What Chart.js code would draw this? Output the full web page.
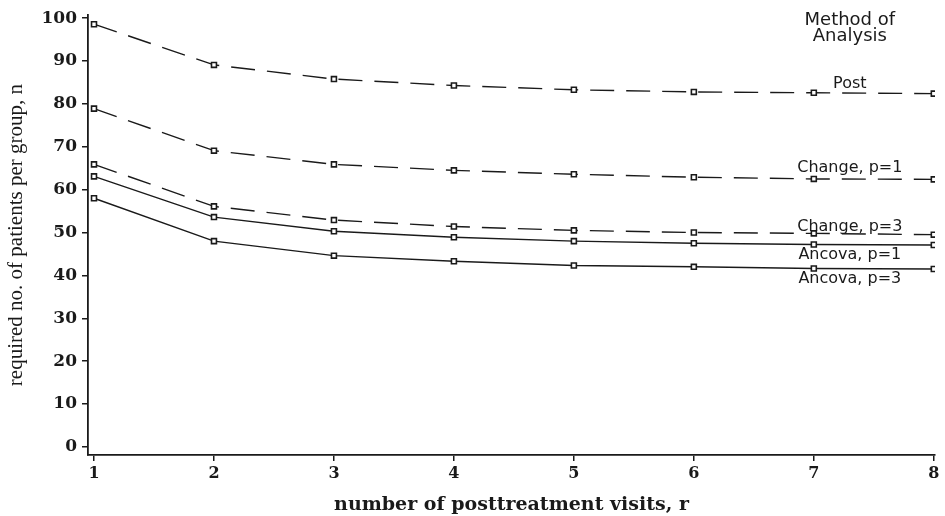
<!DOCTYPE html>
<html>
<head>
<meta charset="utf-8">
<script src="https://cdn.jsdelivr.net/npm/chart.js@4/dist/chart.umd.min.js"></script>
<style>
  html, body { margin: 0; padding: 0; background: #fff; }
  #wrap { width: 945px; height: 516px; position: relative; }
</style>
</head>
<body>
<div id="wrap"><canvas id="chart" width="945" height="516"></canvas></div>
<script>
// values
const visits = [1, 2, 3, 4, 5, 6, 7, 8];
const post = [98.6, 89.1, 85.8, 84.3, 83.3, 82.8, 82.6, 82.4];
const change1 = [78.9, 69.1, 65.9, 64.5, 63.6, 62.9, 62.5, 62.4];
const change3 = [65.9, 56.1, 52.9, 51.4, 50.5, 50.0, 49.8, 49.5];
const ancova1 = [63.1, 53.6, 50.3, 48.9, 48.0, 47.5, 47.2, 47.1];
const ancova3 = [58.0, 48.0, 44.6, 43.3, 42.3, 42.0, 41.6, 41.5];
const yTicks = [0, 10, 20, 30, 40, 50, 60, 70, 80, 90, 100];

// curve labels: [text, x, y]
const curveLabels = [
    ['Post', 7.3, 84.7],
    ['Change, p=1', 7.3, 65.0],
    ['Change, p=3', 7.3, 51.3],
    ['Ancova, p=1', 7.3, 44.8],
    ['Ancova, p=3', 7.3, 39.2]
];
const legendTitle = ['Method of', 'Analysis'];

const ink = '#1a1a1a';

function series(label, values, dashed) {
    return {
        label: label,
        data: visits.map((v, i) => ({ x: v, y: values[i] })),
        borderColor: ink,
        borderWidth: 1.4,
        borderDash: dashed ? [24, 12] : [],
        pointStyle: 'rect',
        pointRadius: 3.5,
        pointBorderWidth: 1.6,
        pointBorderColor: ink,
        pointBackgroundColor: '#fff',
        tension: 0
    };
}

const labelPlugin = {
    id: 'curveLabels',
    afterDatasetsDraw(chart) {
        const ctx = chart.ctx;
        const xs = chart.scales.x, ys = chart.scales.y;
        ctx.save();
        ctx.fillStyle = ink;
        ctx.textAlign = 'center';
        ctx.textBaseline = 'middle';
        ctx.font = '16px "DejaVu Sans", sans-serif';
        curveLabels.forEach(([t, x, y]) => {
            ctx.fillText(t, xs.getPixelForValue(x), ys.getPixelForValue(y));
        });
        const cx = xs.getPixelForValue(7.3);
        ctx.font = '18px "DejaVu Sans", sans-serif';
        ctx.fillText(legendTitle[0], cx, 20);
        ctx.fillText(legendTitle[1], cx, 36);
        ctx.restore();
    }
};

new Chart(document.getElementById('chart'), {
    type: 'line',
    data: {
        datasets: [
            series('Post', post, true),
            series('Change, p=1', change1, true),
            series('Change, p=3', change3, true),
            series('Ancova, p=1', ancova1, false),
            series('Ancova, p=3', ancova3, false)
        ]
    },
    options: {
        responsive: false,
        animation: false,
        layout: { padding: { top: 2, right: 10, left: 0, bottom: 0 } },
        plugins: { legend: { display: false }, tooltip: { enabled: false } },
        scales: {
            x: {
                type: 'linear',
                min: 0.95,
                max: 8.01,
                afterBuildTicks: s => { s.ticks = visits.map(v => ({ value: v })); },
                afterFit: s => { s.height = 61; },
                grid: { drawOnChartArea: false, color: ink, tickLength: 6, lineWidth: 1.5 },
                border: { color: ink, width: 1.8 },
                ticks: {
                    color: ink, padding: 3, maxRotation: 0,
                    font: { family: '"DejaVu Serif", serif', size: 16, weight: 'bold' }
                },
                title: {
                    display: true,
                    text: 'number of posttreatment visits, r',
                    color: ink,
                    padding: { top: 4, bottom: 0 },
                    font: { family: '"DejaVu Serif", serif', size: 19, weight: 'bold' }
                }
            },
            y: {
                min: -1.9,
                max: 100.7,
                afterBuildTicks: s => { s.ticks = yTicks.map(v => ({ value: v })); },
                afterFit: s => { s.width = 88; },
                grid: { drawOnChartArea: false, color: ink, tickLength: 6, lineWidth: 1.5 },
                border: { color: ink, width: 1.8 },
                ticks: {
                    color: ink, padding: 5,
                    font: { family: '"DejaVu Serif", serif', size: 17, weight: 'bold' }
                },
                title: {
                    display: true,
                    text: 'required no. of patients per group, n',
                    color: ink,
                    padding: { bottom: 0 },
                    font: { family: '"Liberation Serif", serif', size: 21 }
                }
            }
        }
    },
    plugins: [labelPlugin]
});
</script>
</body>
</html>
